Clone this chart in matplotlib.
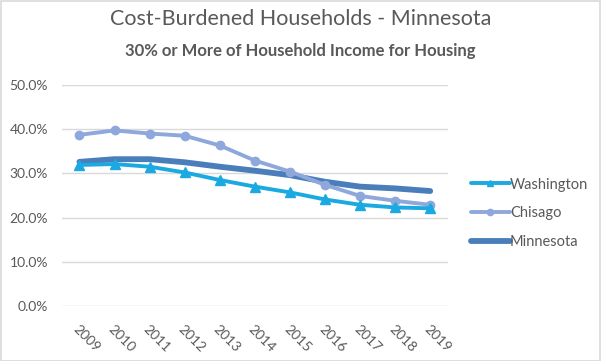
import matplotlib
matplotlib.use("Agg")
import matplotlib.pyplot as plt
from matplotlib.ticker import FuncFormatter
from matplotlib.patches import Rectangle

years = ["2009", "2010", "2011", "2012", "2013", "2014", "2015", "2016", "2017", "2018", "2019"]
washington = [0.319, 0.321, 0.315, 0.302, 0.285, 0.270, 0.257, 0.241, 0.229, 0.223, 0.221]
chisago = [0.387, 0.397, 0.390, 0.385, 0.363, 0.329, 0.304, 0.274, 0.249, 0.238, 0.229]
minnesota = [0.326, 0.332, 0.332, 0.325, 0.315, 0.306, 0.296, 0.281, 0.270, 0.266, 0.260]

plt.rcParams['font.family'] = ['Lato', 'DejaVu Sans']

fig = plt.figure(figsize=(6.01, 3.61), dpi=100)
fig.patches.append(Rectangle((0.001, 0.001), 0.997, 0.996, transform=fig.transFigure,
                             fill=False, edgecolor='#d9d9d9', linewidth=1.2))
ax = fig.add_axes([0.103, 0.152, 0.642, 0.613])

x = list(range(len(years)))
ax.plot(x, washington, color='#1ba9e1', linewidth=2.8, marker='^', markersize=6.5,
        label='Washington', solid_capstyle='round', zorder=3)
ax.plot(x, chisago, color='#8fa8dc', linewidth=2.8, marker='o', markersize=6,
        label='Chisago', solid_capstyle='round', zorder=2)
ax.plot(x, minnesota, color='#4a7ebb', linewidth=4.2, label='Minnesota',
        solid_capstyle='round', zorder=1)

ax.set_xlim(-0.5, len(years) - 0.5)
ax.set_ylim(0, 0.5)
ax.set_yticks([0, 0.1, 0.2, 0.3, 0.4, 0.5])
ax.yaxis.set_major_formatter(FuncFormatter(lambda v, p: f"{v*100:.1f}%"))
ax.set_xticks(x)
ax.set_xticklabels(years, rotation=-45, ha='left', va='top', rotation_mode='anchor')
ax.tick_params(axis='both', length=0, labelsize=10, colors='#595959')
ax.tick_params(axis='x', pad=12)
ax.tick_params(axis='y', pad=10)
ax.grid(axis='y', color='#d9d9d9', linewidth=1)
ax.set_axisbelow(True)
for s in ax.spines.values():
    s.set_visible(False)

fig.text(0.5, 0.948, "Cost-Burdened Households - Minnesota", ha='center', va='center',
         fontsize=15.5, color='#595959')
fig.text(0.5, 0.860, "30% or More of Household Income for Housing", ha='center', va='center',
         fontsize=12, fontweight='bold', color='#595959')

leg = ax.legend(loc='center left', bbox_to_anchor=(1.025, 0.42), frameon=False,
                fontsize=10.5, labelcolor='#595959', handlelength=2.7, handletextpad=0.0,
                labelspacing=1.0, markerscale=0.75)

fig.savefig("out.png", dpi=100)
